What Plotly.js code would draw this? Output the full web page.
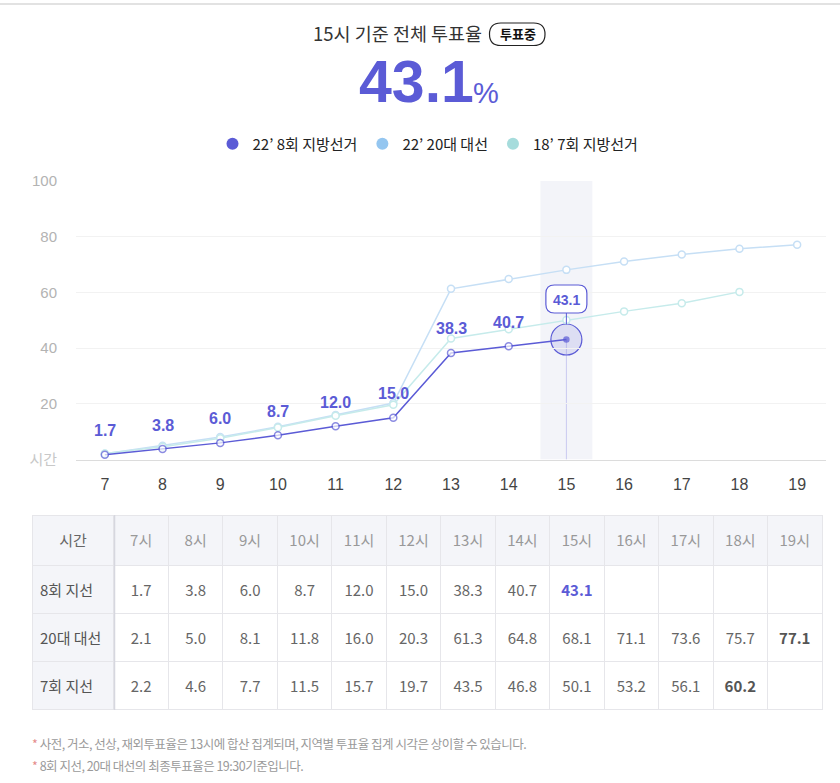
<!DOCTYPE html>
<html><head><meta charset="utf-8">
<script src="https://cdn.plot.ly/plotly-3.0.1.min.js"></script>
<style>
html,body{margin:0;padding:0;background:#fff;}
#chart{width:840px;height:783px;}
text.annotation-text[data-unformatted*="e58a8a"]{letter-spacing:-0.5px;}
</style>
</head><body><div id="chart"></div>
<script>
// ---------- data ----------
const hours = [7, 8, 9, 10, 11, 12, 13, 14, 15, 16, 17, 18, 19];
const hourLabels = ["7시","8시","9시","10시","11시","12시","13시","14시","15시","16시","17시","18시","19시"];
const seriesNames = ["22’ 8회 지방선거", "22’ 20대 대선", "18’ 7회 지방선거"];
const rowLabels = ["8회 지선", "20대 대선", "7회 지선"];
const local8 = [1.7, 3.8, 6.0, 8.7, 12.0, 15.0, 38.3, 40.7, 43.1];
const pres20 = [2.1, 5.0, 8.1, 11.8, 16.0, 20.3, 61.3, 64.8, 68.1, 71.1, 73.6, 75.7, 77.1];
const local7 = [2.2, 4.6, 7.7, 11.5, 15.7, 19.7, 43.5, 46.8, 50.1, 53.2, 56.1, 60.2];
const yTickVals = [0, 20, 40, 60, 80, 100];
const yTickText = ["<span style='color:#c8c8c8'>시간</span>", "20", "40", "60", "80", "100"];
const headerFirst = "시간";
const titleText = "15시 기준 전체 투표율";
const badgeText = "투표중";
const notes = ["사전, 거소, 선상, 재외투표율은 13시에 합산 집계되며, 지역별 투표율 집계 시각은 상이할 수 있습니다.",
               "8회 지선, 20대 대선의 최종투표율은 19:30기준입니다."];

// ---------- helpers ----------
const W = 840, H = 783;
const px = x => x / W, py = y => 1 - y / H;
const PURPLE = "#5b5bd6", BLUE = "#c6dff5", TEAL = "#c6ebeb";
const LEG_BLUE = "#94c6f0", LEG_TEAL = "#a6dcdc";
const curIdx = local8.length - 1;
const curHour = hours[curIdx], curVal = local8[curIdx];
const KFONT = "Noto Sans CJK KR, Noto Sans, sans-serif";
const NFONT = "Liberation Sans, Arial, Noto Sans CJK KR, sans-serif";

const lineTrace = (ys, color, name) => ({
  type: "scatter", mode: "lines+markers", name: name, showlegend: false,
  x: hours.slice(0, ys.length), y: ys, cliponaxis: false, hoverinfo: "skip",
  line: {color: color, width: 1.5},
  marker: {size: 7, color: "#fff", line: {color: color, width: 1.5}}
});
const legendTrace = (color, name) => ({
  type: "scatter", mode: "markers", name: name, x: [null], y: [null],
  marker: {size: 12, color: color}, hoverinfo: "skip"
});

const t8 = lineTrace(local8, PURPLE, seriesNames[0]);
t8.marker = {
  size: local8.map((v, i) => i === curIdx ? 5 : 7),
  color: local8.map((v, i) => i === curIdx ? PURPLE : "#fff"),
  line: {color: PURPLE, width: 1.5}
};

// ---------- table ----------
const rows = [local8, pres20, local7];
const fmt = v => v === undefined ? "" : v.toFixed(1);
const headerVals = [headerFirst].concat(hourLabels);
const cellVals = [rowLabels];
const cellColors = [["#555", "#555", "#555"]];
const cellWeights = [["normal", "normal", "normal"]];
const cellFills = [["#f4f5f9", "#f4f5f9", "#f4f5f9"]];
hours.forEach((h, i) => {
  cellVals.push(rows.map(arr => fmt(arr[i])));
  cellColors.push(rows.map((arr, r) => (r === 0 && i === curIdx) ? PURPLE : (i === arr.length - 1 ? "#555" : "#666")));
  cellWeights.push(rows.map(arr => i === arr.length - 1 ? "bold" : "normal"));
  cellFills.push(["#fff", "#fff", "#fff"]);
});
const colW = [82].concat(hours.map(() => 54.5));
const TOP = 515, BOT = 711, HDR = 50, ROWH = 48, TEXT_SHIFT = 11.5;

// background table: fills and cell lines
const tableBg = {
  type: "table",
  domain: {x: [px(32), px(822)], y: [py(BOT), py(TOP)]},
  columnwidth: colW,
  header: {values: headerVals.map(() => ""), height: HDR,
           fill: {color: "#f4f5f9"}, line: {color: "#e6e6ea", width: 1}, font: {size: 15}},
  cells: {values: cellVals.map(c => c.map(() => "")), height: ROWH,
          fill: {color: cellFills}, line: {color: "#e6e6ea", width: 1}, font: {size: 15}}
};
// text table: same grid, text lowered to sit in the middle of each cell
const tableText = {
  type: "table",
  domain: {x: [px(32), px(822)], y: [py(BOT + TEXT_SHIFT), py(TOP + TEXT_SHIFT)]},
  columnwidth: colW,
  header: {
    values: headerVals, height: HDR, align: "center",
    fill: {color: "rgba(0,0,0,0)"}, line: {color: "rgba(0,0,0,0)", width: 0},
    font: {family: KFONT, size: 15, color: ["#666"].concat(hours.map(() => "#999"))}
  },
  cells: {
    values: cellVals, height: ROWH,
    align: ["left"].concat(hours.map(() => "center")),
    fill: {color: "rgba(0,0,0,0)"}, line: {color: "rgba(0,0,0,0)", width: 0},
    font: {family: KFONT, size: 15, color: cellColors, weight: cellWeights}
  }
};

const data = [
  lineTrace(pres20, BLUE, seriesNames[1]),
  lineTrace(local7, TEAL, seriesNames[2]),
  t8,
  legendTrace(PURPLE, seriesNames[0]),
  legendTrace(LEG_BLUE, seriesNames[1]),
  legendTrace(LEG_TEAL, seriesNames[2]),
  tableBg, tableText
];

// ---------- annotations ----------
const annotations = local8.slice(0, curIdx).map((v, i) => ({
  x: hours[i], y: v, xref: "x", yref: "y", text: "<b>" + v.toFixed(1) + "</b>",
  showarrow: false, yshift: 24, font: {family: NFONT, size: 16, color: PURPLE}
}));
annotations.push({
  x: curHour, y: curVal, xref: "x", yref: "y", text: "<b>" + curVal.toFixed(1) + "</b>",
  showarrow: false, yshift: 40, font: {family: NFONT, size: 14, color: PURPLE}
});
const paperAnn = (x, y, text, font, extra) => Object.assign({
  x: px(x), y: py(y), xref: "paper", yref: "paper", xanchor: "center", yanchor: "middle",
  text: text, showarrow: false, font: font
}, extra || {});
annotations.push(
  paperAnn(397, 33, titleText, {family: KFONT, size: 18.5, color: "#333"}),
  paperAnn(517.5, 34, "<b>" + badgeText + "</b>", {family: KFONT, size: 13, color: "#111"}),
  paperAnn(416, 82, "<b>" + curVal.toFixed(1) + "</b>", {family: NFONT, size: 59, color: PURPLE}),
  paperAnn(486, 93, "%", {family: NFONT, size: 29, color: PURPLE})
);
notes.forEach((n, i) => annotations.push(paperAnn(30, 743 + i * 22,
  "<span style='color:#e58a8a'>*</span> " + n,
  {family: KFONT, size: 12.5, color: "#9a9a9a"}, {xanchor: "left"})));

// ---------- shapes ----------
function pillPaper(x0, y0, x1, y1, r) {
  const X = v => px(v), Y = v => py(v);
  return `M ${X(x0 + r)},${Y(y0)} L ${X(x1 - r)},${Y(y0)} Q ${X(x1)},${Y(y0)} ${X(x1)},${Y(y0 + r)} ` +
         `L ${X(x1)},${Y(y1 - r)} Q ${X(x1)},${Y(y1)} ${X(x1 - r)},${Y(y1)} L ${X(x0 + r)},${Y(y1)} ` +
         `Q ${X(x0)},${Y(y1)} ${X(x0)},${Y(y1 - r)} L ${X(x0)},${Y(y0 + r)} Q ${X(x0)},${Y(y0)} ${X(x0 + r)},${Y(y0)} Z`;
}
function rrPixel(x0, y0, x1, y1, r) { // pixel offsets, y up
  return `M ${x0 + r},${y0} L ${x1 - r},${y0} Q ${x1},${y0} ${x1},${y0 + r} L ${x1},${y1 - r} Q ${x1},${y1} ${x1 - r},${y1} ` +
         `L ${x0 + r},${y1} Q ${x0},${y1} ${x0},${y1 - r} L ${x0},${y0 + r} Q ${x0},${y0} ${x0 + r},${y0} Z`;
}

const shapes = [
  {type: "line", xref: "paper", yref: "paper", x0: 0, x1: 1, y0: py(4), y1: py(4), line: {color: "#d9d9d9", width: 1.5}},
  {type: "path", xref: "paper", yref: "paper", path: pillPaper(489.5, 23, 545, 45.5, 11.25),
   line: {color: "#222", width: 1.2}, fillcolor: "#fff", layer: "below"},
  {type: "rect", xref: "x", yref: "y", x0: curHour - 0.45, x1: curHour + 0.45, y0: 0, y1: 100,
   fillcolor: "#f3f4f9", line: {width: 0}, layer: "below"},
  {type: "line", xref: "x", yref: "y", x0: curHour, x1: curHour, y0: 0, y1: curVal,
   line: {color: "#c9c9f0", width: 1}, layer: "below"},
  {type: "line", xref: "x", yref: "y", xsizemode: "pixel", ysizemode: "pixel", xanchor: curHour, yanchor: curVal,
   x0: 0, x1: 0, y0: 15, y1: 27, line: {color: PURPLE, width: 1}},
  {type: "circle", xref: "x", yref: "y", xsizemode: "pixel", ysizemode: "pixel", xanchor: curHour, yanchor: curVal,
   x0: -15.5, x1: 15.5, y0: -15.5, y1: 15.5, fillcolor: "rgba(91,91,214,0.14)", line: {color: PURPLE, width: 1.2}, layer: "below"},
  {type: "path", xref: "x", yref: "y", xsizemode: "pixel", ysizemode: "pixel", xanchor: curHour, yanchor: curVal,
   path: rrPixel(-20.5, 26.5, 20.5, 54.5, 8.5), fillcolor: "#fff", line: {color: PURPLE, width: 1.2}},
  {type: "line", xref: "paper", yref: "paper", x0: px(114.5), x1: px(114.5), y0: py(TOP), y1: py(BOT - 1),
   line: {color: "#d6d7df", width: 1.5}}
];

const layout = {
  width: W, height: H, margin: {l: 0, r: 0, t: 0, b: 0},
  paper_bgcolor: "#fff", plot_bgcolor: "rgba(0,0,0,0)",
  showlegend: true,
  legend: {orientation: "h", x: px(428), xanchor: "center", y: py(144), yanchor: "middle",
           font: {family: KFONT, size: 15, color: "#222"}, itemclick: false, itemdoubleclick: false},
  xaxis: {domain: [px(76), px(826)], range: [6.5, 19.5], tickvals: hours, ticktext: hours.map(String),
          showgrid: false, zeroline: false, showline: true, linecolor: "#dcdcdc", linewidth: 1.5,
          ticks: "", ticklabelstandoff: 10, tickfont: {family: NFONT, size: 16, color: "#444"}, fixedrange: true},
  yaxis: {domain: [py(459.6), py(181)], range: [0, 100], tickvals: yTickVals, ticktext: yTickText,
          showgrid: true, gridcolor: "#f2f2f2", gridwidth: 1, zeroline: false, showline: false,
          ticks: "", ticklabelstandoff: 18, tickfont: {family: NFONT, size: 15, color: "#b3b3b3"}, fixedrange: true},
  annotations: annotations, shapes: shapes,
  hovermode: false
};

Plotly.newPlot("chart", data, layout, {displayModeBar: false, staticPlot: true});
</script></body></html>
